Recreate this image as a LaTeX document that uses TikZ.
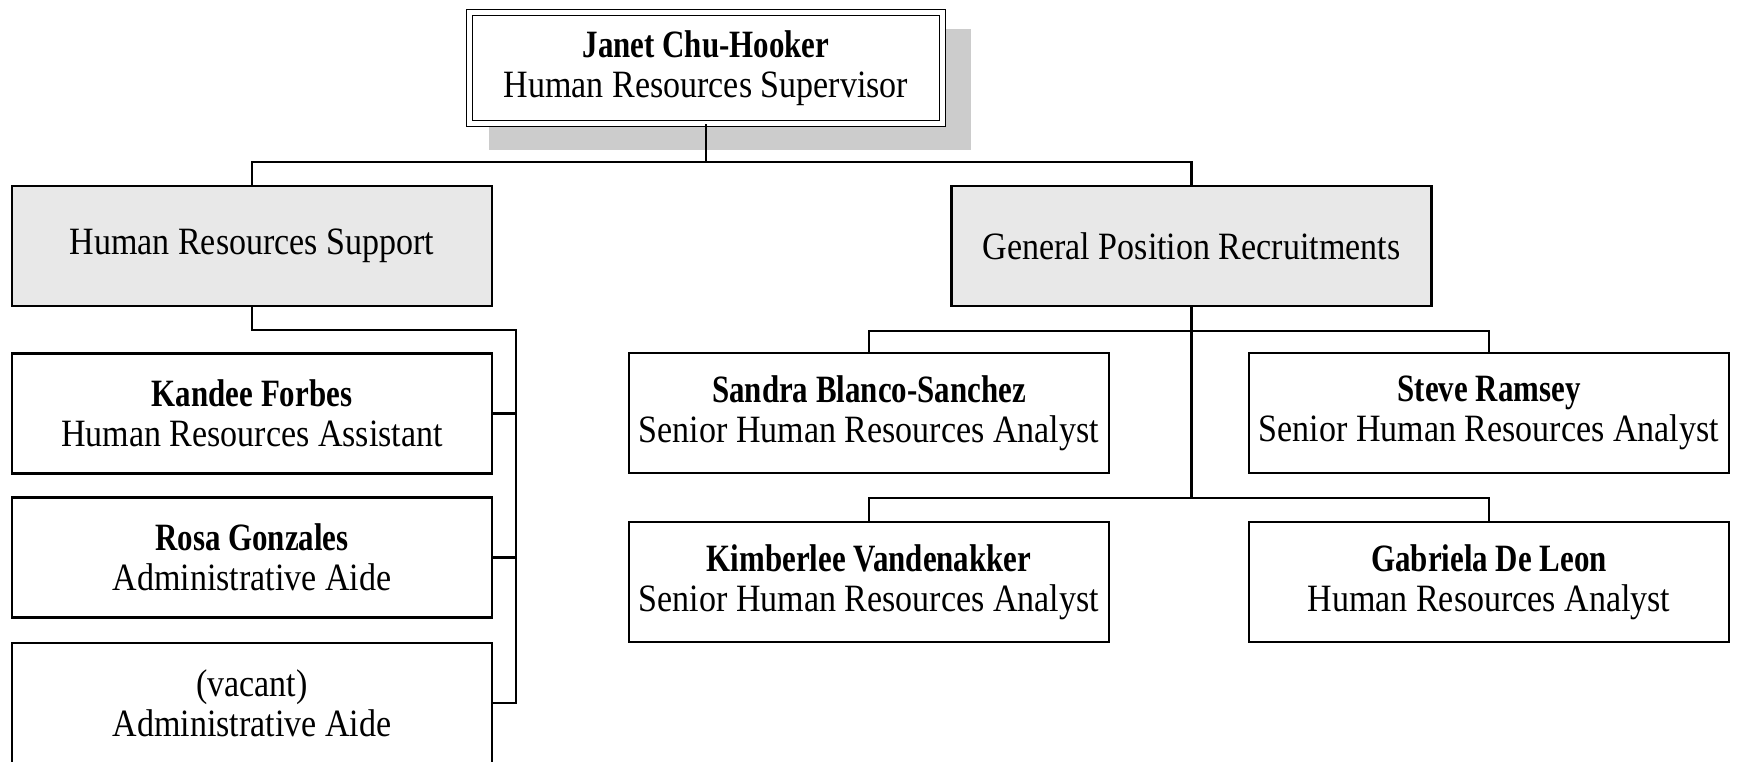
\documentclass[tikz,border=0pt]{standalone}
\usepackage{fontspec}
\setmainfont{Liberation Serif}[FakeStretch=0.88, BoldFeatures={FakeStretch=0.8}]
\usepackage{tikz}
\definecolor{deptgray}{HTML}{E8E8E8}
\definecolor{shadowgray}{HTML}{CCCCCC}

\begin{document}
\begin{tikzpicture}[
  every node/.style={font=\fontsize{11}{11.5}\selectfont},
  person/.style={draw, line width=0.6pt, fill=white, minimum width=4.8cm, minimum height=1.2cm, inner sep=0pt, align=center},
  dept/.style={person, fill=deptgray},
  head/.style={person, double, line width=0.5pt, double distance=1.2pt, minimum width=4.73cm, minimum height=1.11cm},
  link/.style={line width=0.6pt}
]
  \useasboundingbox (0,0) rectangle (17.39,-7.61);

  % shadow behind the supervisor
  \fill[shadowgray] (4.89,-0.29) rectangle (9.71,-1.50);

  % where the lines branch
  \coordinate (tbar) at (7.06,-1.62);
  \coordinate (hsp) at (5.16,-3.30);
  \coordinate (gbar1) at (11.915,-3.31);
  \coordinate (gbar2) at (11.915,-4.98);

  % supervisor and the two units
  \node[head] (top) at (7.06,-0.68) {\textbf{Janet Chu-Hooker}\\Human Resources Supervisor};
  \node[dept] (hrs) at (2.52,-2.46) {Human Resources Support};
  \node[dept] (gpr) at (11.915,-2.46) {General Position Recruitments};

  % support staff
  \node[person] (kandee) at (2.52,-4.135) {\textbf{Kandee Forbes}\\Human Resources Assistant};
  \node[person] (rosa) at (2.52,-5.575) {\textbf{Rosa Gonzales}\\Administrative Aide};
  \node[person] (vacant) at (2.52,-7.03) {(vacant)\\Administrative Aide};

  % recruitment staff
  \node[person] (sandra) at (8.69,-4.13) {\textbf{Sandra Blanco-Sanchez}\\Senior Human Resources Analyst};
  \node[person] (steve) at (14.89,-4.13) {\textbf{Steve Ramsey}\\Senior Human Resources Analyst};
  \node[person] (kimb) at (8.69,-5.82) {\textbf{Kimberlee Vandenakker}\\Senior Human Resources Analyst};
  \node[person] (gab) at (14.89,-5.82) {\textbf{Gabriela De Leon}\\Human Resources Analyst};

  % lines
  \draw[link] (top.south) -- (tbar);
  \draw[link] (hrs.north) |- (tbar) -| (gpr.north);

  \draw[link] (hrs.south) |- (hsp) -- (hsp |- vacant.east) -- (vacant.east);
  \draw[link] (kandee.east) -- (kandee.east -| hsp);
  \draw[link] (rosa.east) -- (rosa.east -| hsp);

  \draw[link] (gpr.south) -- (gbar2);
  \draw[link] (sandra.north) |- (gbar1) -| (steve.north);
  \draw[link] (kimb.north) |- (gbar2) -| (gab.north);
\end{tikzpicture}
\end{document}
